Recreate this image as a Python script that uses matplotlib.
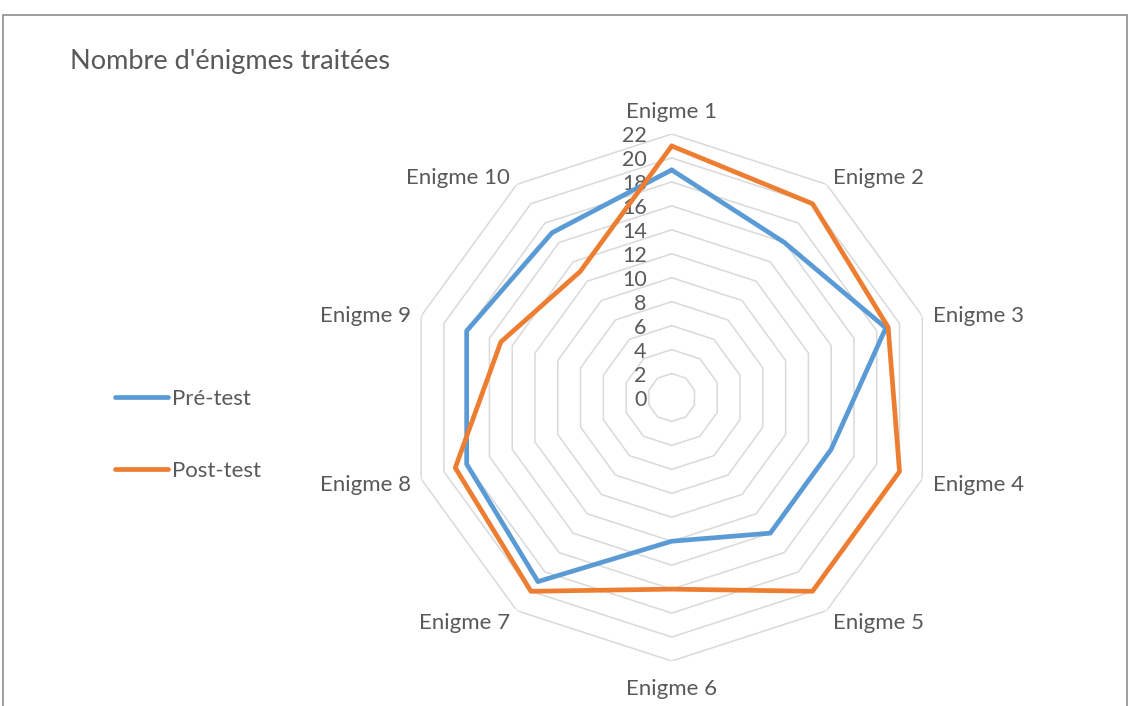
import numpy as np
import matplotlib
matplotlib.use("Agg")
import matplotlib.pyplot as plt
from matplotlib.patches import Rectangle

categories = ["Enigme 1", "Enigme 2", "Enigme 3", "Enigme 4", "Enigme 5",
              "Enigme 6", "Enigme 7", "Enigme 8", "Enigme 9", "Enigme 10"]
pre_test = [19, 16, 18.8, 14, 14, 12, 19, 18, 18, 17]
post_test = [21, 20, 19, 20, 20, 16, 20, 19, 15, 13]
series_names = ["Pré-test", "Post-test"]
radial_ticks = list(range(0, 23, 2))
title = "Nombre d'énigmes traitées"

BLUE = "#5B9BD5"
ORANGE = "#ED7D31"
GRID = "#D9D9D9"
TEXT = "#595959"
FONT = ["Lato", "DejaVu Sans"]
plt.rcParams['font.family'] = FONT

W, H = 1130, 706
fig = plt.figure(figsize=(W / 100, H / 100), dpi=100)
fig.patch.set_facecolor("white")

# chart border (cropped at bottom)
fig.add_artist(Rectangle((3 / W, -0.05), (1127 - 3) / W, 1.05 - 15 / H,
                         transform=fig.transFigure, fill=False,
                         edgecolor="#8C8C8C", linewidth=1.2))

cx, cy, R = 671.7, 397.5, 263.5
ax = fig.add_axes([(cx - R) / W, (H - cy - R) / H, 2 * R / W, 2 * R / H],
                  projection="polar")
ax.set_theta_zero_location("N")
ax.set_theta_direction(-1)
ax.set_ylim(0, 22)
ax.grid(False)
ax.spines["polar"].set_visible(False)
ax.set_xticks([])
ax.set_yticks([])
ax.set_facecolor("none")

n = len(categories)
theta = np.linspace(0, 2 * np.pi, n, endpoint=False)
theta_c = np.append(theta, theta[0])

# polygon grid
for v in radial_ticks[1:]:
    ax.plot(theta_c, [v] * (n + 1), color=GRID, linewidth=1.1, zorder=1)

# radial tick labels
for v in radial_ticks:
    ax.annotate(str(v), xy=(0, v), xytext=(-25, -2), textcoords="offset pixels",
                ha="right", va="center", fontsize=15.5, color=TEXT,
                annotation_clip=False)

# category labels
for t, lab in zip(theta, categories):
    s, c = np.sin(t), np.cos(t)
    if abs(s) < 1e-6:
        dx, dy = 0, 25 * np.sign(c) - 3
        ha = "center"
    else:
        dx, dy = 11 * s, 11 * c - 3
        ha = "left" if s > 0 else "right"
    ax.annotate(lab, xy=(t, 22), xytext=(dx, dy), textcoords="offset pixels",
                ha=ha, va="center", fontsize=16, color=TEXT,
                annotation_clip=False)

l1, = ax.plot(theta_c, pre_test + pre_test[:1], color=BLUE, linewidth=3.4,
              solid_joinstyle="round", solid_capstyle="round", zorder=3,
              label=series_names[0])
l2, = ax.plot(theta_c, post_test + post_test[:1], color=ORANGE, linewidth=3.4,
              solid_joinstyle="round", solid_capstyle="round", zorder=4,
              label=series_names[1])

leg = fig.legend(handles=[l1, l2], loc="center left",
                 bbox_to_anchor=(115 / W, (H - 435) / H),
                 frameon=False, fontsize=16, handlelength=2.4,
                 handletextpad=0.18, labelspacing=2.35, borderpad=0,
                 borderaxespad=0)
for t in leg.get_texts():
    t.set_color(TEXT)

fig.text(70 / W, 1 - 62 / H, title, ha="left", va="center", fontsize=19.5,
         color=TEXT)

fig.savefig("out.png", dpi=100, facecolor="white")
